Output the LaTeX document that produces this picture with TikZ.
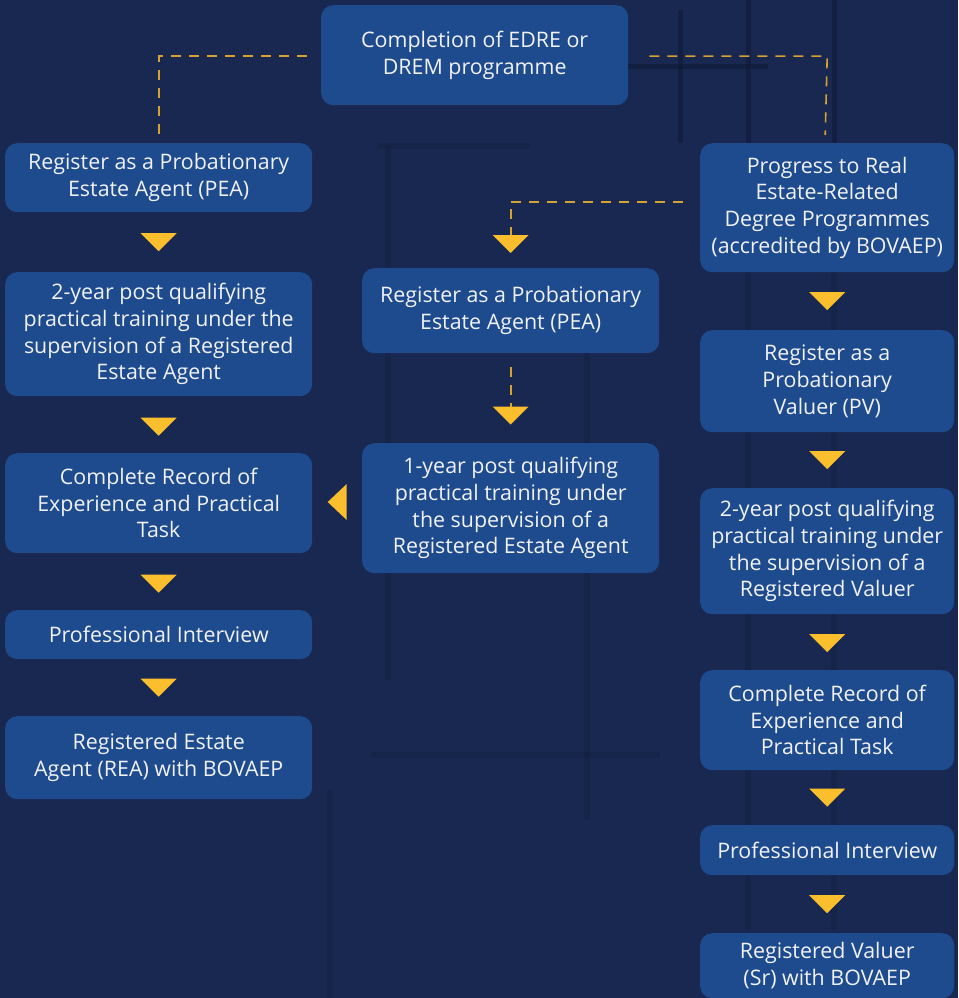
\documentclass[tikz,border=0pt]{standalone}
\usepackage{fontspec}
\setmainfont{Open Sans}
\usetikzlibrary{calc}
\definecolor{bgc}{RGB}{24,40,80}
\definecolor{bgdark}{RGB}{14,24,50}
\definecolor{boxc}{RGB}{30,74,142}
\definecolor{tric}{RGB}{251,190,44}
\definecolor{dashc}{RGB}{214,162,50}
\definecolor{txtc}{RGB}{240,242,246}
\tikzset{
  flowbox/.style={rectangle, rounded corners=12pt, fill=boxc, text=txtc, align=center,
    inner sep=0pt, anchor=north west, font=\fontsize{21.4}{26.7}\selectfont},
  dashlink/.style={draw=dashc, line width=1.6pt, dash pattern=on 10pt off 8pt},
  tri/.style={fill=tric},
  texline/.style={draw=bgdark, line width=5pt, opacity=0.5},
  texfaint/.style={draw=bgdark, line width=6pt, opacity=0.22},
}
\newcommand{\downtri}[1]{\fill[tri] (#1) ++(-18,-9) -- ++(36,0) -- ++(-18,18) -- cycle;}
\begin{document}
\begin{tikzpicture}[x=1pt,y=-1pt]
\fill[bgc] (0,0) rectangle (958,998);
\useasboundingbox (0,0) rectangle (958,998);

% faint background texture
\draw[texline] (628,67) -- (768,67);
\draw[texline] (680,10) -- (680,143);
\draw[texline] (748,0) -- (748,150);
\draw[texline] (834,0) -- (834,150);
\draw[texfaint] (748,150) -- (748,930);
\draw[texfaint] (834,150) -- (834,930);
\draw[texfaint] (378,146) -- (530,146);
\draw[texfaint] (388,146) -- (388,680);
\draw[texfaint] (587,350) -- (587,820);
\draw[texfaint] (370,755) -- (660,755);
\draw[texfaint] (330,790) -- (330,998);

% top
\node[flowbox, minimum width=307pt, minimum height=100pt] (T) at (321,5) {Completion of EDRE or\\DREM programme};

% left column
\node[flowbox, minimum width=307pt, minimum height=69pt] (L1) at (5,143) {Register as a Probationary\\Estate Agent (PEA)};
\node[flowbox, minimum width=307pt, minimum height=124pt] (L2) at (5,272) {2-year post qualifying\\practical training under the\\supervision of a Registered\\Estate Agent};
\node[flowbox, minimum width=307pt, minimum height=100pt] (L3) at (5,453) {Complete Record of\\Experience and Practical\\Task};
\node[flowbox, minimum width=307pt, minimum height=49pt] (L4) at (5,610) {Professional Interview};
\node[flowbox, minimum width=307pt, minimum height=83pt] (L5) at (5,716) {Registered Estate\\Agent (REA) with BOVAEP};

% middle column
\node[flowbox, minimum width=297pt, minimum height=85pt] (M1) at (362,268) {Register as a Probationary\\Estate Agent (PEA)};
\node[flowbox, minimum width=297pt, minimum height=130pt] (M2) at (362,443) {1-year post qualifying\\practical training under\\the supervision of a\\Registered Estate Agent};

% right column
\node[flowbox, minimum width=254pt, minimum height=129pt] (R1) at (700,143) {Progress to Real\\Estate-Related\\Degree Programmes\\(accredited by BOVAEP)};
\node[flowbox, minimum width=254pt, minimum height=102pt] (R2) at (700,330) {Register as a\\Probationary\\Valuer (PV)};
\node[flowbox, minimum width=254pt, minimum height=126pt] (R3) at (700,488) {2-year post qualifying\\practical training under\\the supervision of a\\Registered Valuer};
\node[flowbox, minimum width=254pt, minimum height=100pt] (R4) at (700,670) {Complete Record of\\Experience and\\Practical Task};
\node[flowbox, minimum width=254pt, minimum height=50pt] (R5) at (700,825) {Professional Interview};
\node[flowbox, minimum width=254pt, minimum height=65pt] (R6) at (700,933) {Registered Valuer\\(Sr) with BOVAEP};

% dashed links
\coordinate (tl) at ($(T.west)+(-14,1)$);
\coordinate (tr) at ($(T.east)+(21,1)$);
\draw[dashlink] (tl) -- (tl -| L1.north) -- ($(L1.north)+(0,-8)$);
\draw[dashlink] (tr) -- (tr -| R1.north) -- ($(R1.north)+(-2,-8)$);
\coordinate (rm) at ($(R1.west)+(-17,-6)$);
\coordinate (m1t) at ($(M1.north)+(0,-33)$);
\draw[dashlink] (rm) -- (rm -| M1.north) -- (m1t);
\coordinate (m1b) at ($(M1.south)+(0,14)$);
\coordinate (m2t) at ($(M2.north)+(0,-36)$);
\draw[dashlink] (m1b) -- (m2t);

% triangles
\downtri{$(M1.north)+(0,-24)$}
\downtri{$(M2.north)+(0,-27.5)$}
\downtri{$(L1.south)!0.5!(L2.north)$}
\downtri{$(L2.south)!0.5!(L3.north)+(0,2)$}
\downtri{$(L3.south)!0.5!(L4.north)+(0,2)$}
\downtri{$(L4.south)!0.5!(L5.north)$}
\downtri{$(R1.south)!0.5!(R2.north)$}
\downtri{$(R2.south)!0.5!(R3.north)$}
\downtri{$(R3.south)!0.5!(R4.north)+(0,1)$}
\downtri{$(R4.south)!0.5!(R5.north)$}
\downtri{$(R5.south)!0.5!(R6.north)$}
% left-pointing triangle between M2 and L3
\coordinate (lt) at ($(L3.east)!0.5!(M2.west)$);
\fill[tri] (lt |- 0,502) ++(-9.5,0) -- ++(19,-18) -- ++(0,36) -- cycle;
\end{tikzpicture}
\end{document}
